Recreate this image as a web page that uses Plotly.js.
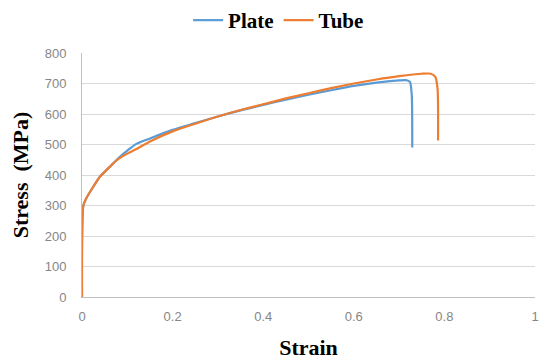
<!DOCTYPE html>
<html><head><meta charset="utf-8">
<script src="https://cdn.plot.ly/plotly-3.0.1.min.js"></script>
<style>html,body{margin:0;padding:0;background:#fff}</style>
</head><body><div id="chart" style="width:541px;height:361px"></div>
<script>
const plateStrain = [0, 0.003, 0.01, 0.02, 0.04, 0.06, 0.08, 0.1, 0.12, 0.15, 0.2, 0.25, 0.3, 0.35, 0.4, 0.45, 0.5, 0.55, 0.6, 0.65, 0.7, 0.715, 0.724, 0.728, 0.729];
const plateStress = [0, 300, 325, 350, 395, 425, 455, 480, 502, 520, 548, 570, 592, 612, 630, 647, 663, 678, 692, 703, 710, 711, 705, 660, 490];
const tubeStrain = [0, 0.003, 0.01, 0.02, 0.04, 0.06, 0.08, 0.1, 0.12, 0.15, 0.2, 0.25, 0.3, 0.35, 0.4, 0.45, 0.5, 0.55, 0.6, 0.65, 0.7, 0.75, 0.77, 0.78, 0.785, 0.786];
const tubeStress = [0, 300, 325, 350, 395, 425, 452, 470, 485, 510, 543, 568, 592, 613, 632, 651, 668, 685, 700, 713, 724, 732, 732, 722, 680, 513];
const xTicks = [0, 0.2, 0.4, 0.6, 0.8, 1];
const xTickText = ['0', '0.2', '0.4', '0.6', '0.8', '1'];
const yTicks = [0, 100, 200, 300, 400, 500, 600, 700, 800];

const traces = [
  {x: plateStrain, y: plateStress, name: 'Plate', mode: 'lines', line: {color: '#5b9bd5', width: 2.2, shape: 'spline', smoothing: 0.6}},
  {x: tubeStrain, y: tubeStress, name: 'Tube', mode: 'lines', line: {color: '#ed7d31', width: 2.2, shape: 'spline', smoothing: 0.6}}
];
const tickFont = {family: 'Liberation Sans, Arial, sans-serif', size: 13, color: '#868686'};
const titleFont = {family: 'Liberation Serif, Times New Roman, serif', size: 22, color: '#000', weight: 'bold'};
const layout = {
  width: 541, height: 361,
  margin: {l: 82, r: 6, t: 53, b: 64},
  paper_bgcolor: '#fff', plot_bgcolor: '#fff',
  showlegend: true,
  legend: {orientation: 'h', x: 0.515, xref: 'container', xanchor: 'center', y: 1.0, yref: 'container', yanchor: 'top',
    font: {family: 'Liberation Serif, Times New Roman, serif', size: 21, color: '#000', weight: 'bold'},
    itemwidth: 30, tracegroupgap: 0},
  xaxis: {range: [0, 1], tickvals: xTicks, ticktext: xTickText, tickfont: tickFont,
    showgrid: false, zeroline: false, showline: true, linecolor: '#bfbfbf', linewidth: 1, ticks: '',
    ticklabelstandoff: 7,
    title: {text: 'Strain', font: titleFont, standoff: 17}},
  yaxis: {range: [0, 800], tickvals: yTicks, tickfont: tickFont,
    showgrid: true, gridcolor: '#d9d9d9', gridwidth: 1, zeroline: false, showline: true, linecolor: '#bfbfbf', linewidth: 1, ticks: '',
    ticklabelstandoff: 12,
    title: {text: 'Stress  (MPa)', font: titleFont, standoff: 9}}
};
Plotly.newPlot('chart', traces, layout, {displayModeBar: false, staticPlot: true});
</script></body></html>
